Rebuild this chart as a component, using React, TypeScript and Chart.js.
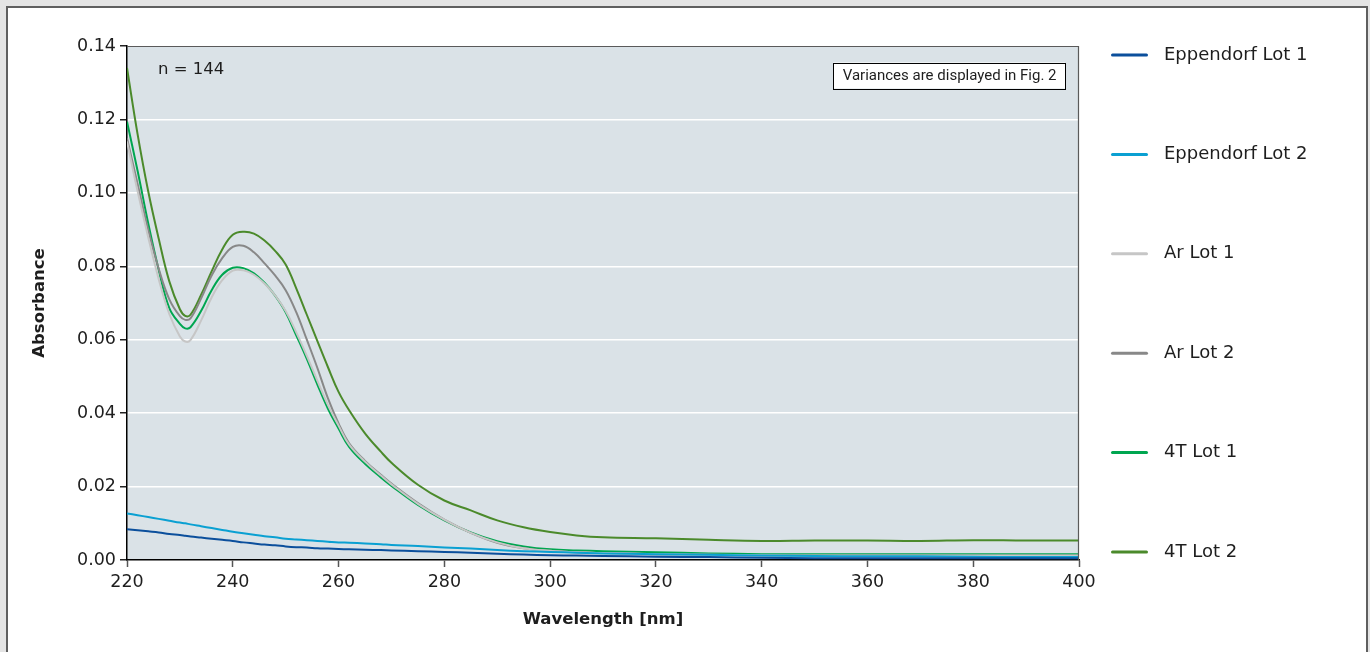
import React, { useEffect, useRef } from "react";
import { Chart, registerables } from "chart.js";

Chart.register(...registerables);

// ---------- data ----------
const WAVELENGTHS = [
  220, 222, 224, 226, 228, 230, 231, 232, 234, 236, 238, 240, 242, 244, 246, 248, 250, 252, 254, 256, 258,
  260, 262, 265, 268, 270, 275, 280, 285, 290, 295, 300, 305, 310, 320, 330, 340, 350, 360, 370, 380, 390, 400,
];

const EPPENDORF_LOT_1 = [
  0.0084, 0.0081, 0.0078, 0.0075, 0.0071, 0.0068, 0.0066, 0.0064, 0.0061, 0.0058, 0.0055, 0.0052, 0.0048, 0.0045,
  0.0042, 0.004, 0.0037, 0.0035, 0.0034, 0.0032, 0.0031, 0.003, 0.0029, 0.0028, 0.0027, 0.0026, 0.0024, 0.0022,
  0.002, 0.0017, 0.0015, 0.0013, 0.0012, 0.0011, 0.0009, 0.0008, 0.0006, 0.0005, 0.0005, 0.0005, 0.0005, 0.0005,
  0.0005,
];

const EPPENDORF_LOT_2 = [
  0.0127, 0.0122, 0.0117, 0.0112, 0.0107, 0.0102, 0.01, 0.0097, 0.0092, 0.0087, 0.0082, 0.0077, 0.0073, 0.0069,
  0.0065, 0.0062, 0.0058, 0.0056, 0.0054, 0.0052, 0.005, 0.0048, 0.0047, 0.0045, 0.0043, 0.0041, 0.0038, 0.0034,
  0.0031, 0.0027, 0.0024, 0.0022, 0.002, 0.0018, 0.0016, 0.0014, 0.0012, 0.0011, 0.001, 0.001, 0.0009, 0.0008,
  0.0008,
];

const AR_LOT_1 = [
  0.114, 0.1005, 0.088, 0.0765, 0.067, 0.0609, 0.0595, 0.0599, 0.0652, 0.0715, 0.0762, 0.0788, 0.0789, 0.0777,
  0.0753, 0.0721, 0.0678, 0.062, 0.0556, 0.0488, 0.0422, 0.0366, 0.0314, 0.0268, 0.023, 0.0206, 0.0153, 0.011,
  0.0074, 0.0048, 0.0032, 0.0025, 0.0021, 0.0019, 0.0016, 0.0014, 0.0013, 0.0012, 0.0012, 0.0012, 0.0012, 0.0012,
  0.0012,
];

const AR_LOT_2 = [
  0.1149, 0.1025, 0.09, 0.0793, 0.071, 0.0664, 0.0654, 0.0658, 0.0712, 0.0775, 0.0822, 0.0853, 0.0856, 0.0838,
  0.0808, 0.0775, 0.0735, 0.0675, 0.06, 0.0523, 0.044, 0.0372, 0.0318, 0.027, 0.0232, 0.0208, 0.0155, 0.011,
  0.0074, 0.0047, 0.0032, 0.0025, 0.0021, 0.0019, 0.0016, 0.0014, 0.0013, 0.0012, 0.0012, 0.0012, 0.0012, 0.0012,
  0.0012,
];

const T4_LOT_1 = [
  0.1194, 0.106, 0.0918, 0.079, 0.0686, 0.0643, 0.0631, 0.0634, 0.0678, 0.0735, 0.0777, 0.0796, 0.0795, 0.0781,
  0.0755, 0.072, 0.0675, 0.0612, 0.0548, 0.0478, 0.0412, 0.0358, 0.0308, 0.0262, 0.0225, 0.0202, 0.015, 0.0108,
  0.0075, 0.0051, 0.0037, 0.0029, 0.0026, 0.0024, 0.0021, 0.0018, 0.0016, 0.0016, 0.0016, 0.0016, 0.0016, 0.0016,
  0.0016,
];

const T4_LOT_2 = [
  0.134, 0.116, 0.1005, 0.0875, 0.0759, 0.0683, 0.0665, 0.0668, 0.0722, 0.0786, 0.0846, 0.0886, 0.0894, 0.0889,
  0.087, 0.0842, 0.0805, 0.074, 0.0668, 0.0596, 0.0525, 0.0458, 0.0408, 0.0345, 0.0295, 0.0265, 0.0205, 0.0162,
  0.0135, 0.0108, 0.0089, 0.0076, 0.0067, 0.0062, 0.0059, 0.0055, 0.0052, 0.0053, 0.0053, 0.0052, 0.0054, 0.0053,
  0.0053,
];

const SERIES_LABELS = ["Eppendorf Lot 1", "Eppendorf Lot 2", "Ar Lot 1", "Ar Lot 2", "4T Lot 1", "4T Lot 2"];
const SERIES_COLORS = ["#0b4f9c", "#0aa0d2", "#c6c6c6", "#888888", "#00a650", "#4b8a2b"];

const X_TICKS = [220, 240, 260, 280, 300, 320, 340, 360, 380, 400];
const Y_TICKS = [0, 0.02, 0.04, 0.06, 0.08, 0.1, 0.12, 0.14];

const X_TITLE = "Wavelength [nm]";
const Y_TITLE = "Absorbance";
const SAMPLE_NOTE = "n = 144";
const VARIANCE_NOTE = "Variances are displayed in Fig. 2";

// ---------- styles ----------
const FONT = "'DejaVu Sans', sans-serif";
const TEXT_COLOR = "#1e1e1e";
const PLOT_BG = "#dae2e7";

export default function App() {
  const canvasRef = useRef<HTMLCanvasElement | null>(null);

  useEffect(() => {
    const canvas = canvasRef.current;
    if (!canvas) return;

    const series = [EPPENDORF_LOT_1, EPPENDORF_LOT_2, AR_LOT_1, AR_LOT_2, T4_LOT_1, T4_LOT_2];
    const datasets = series.map((vals, i) => ({
      label: SERIES_LABELS[i],
      data: vals.map((v, j) => ({ x: WAVELENGTHS[j], y: v })),
      borderColor: SERIES_COLORS[i],
      backgroundColor: SERIES_COLORS[i],
      borderWidth: 2,
      pointRadius: 0,
      pointHoverRadius: 0,
      tension: 0.4,
      fill: false,
    }));

    const decorPlugin = {
      id: "decor",
      beforeDraw(chart: any) {
        const { ctx, chartArea: a } = chart;
        ctx.save();
        ctx.fillStyle = PLOT_BG;
        ctx.fillRect(a.left, a.top, a.right - a.left, a.bottom - a.top);
        ctx.restore();
      },
      afterDraw(chart: any) {
        const { ctx, chartArea: a } = chart;
        ctx.save();
        // top & right frame of plot area
        ctx.strokeStyle = "#5a5a5a";
        ctx.lineWidth = 1.2;
        ctx.beginPath();
        ctx.moveTo(a.left, a.top + 0.5);
        ctx.lineTo(a.right - 0.5, a.top + 0.5);
        ctx.lineTo(a.right - 0.5, a.bottom);
        ctx.stroke();

        // n label
        ctx.fillStyle = TEXT_COLOR;
        ctx.font = `16.5px ${FONT}`;
        ctx.textBaseline = "middle";
        ctx.textAlign = "left";
        ctx.fillText(SAMPLE_NOTE, a.left + 31, a.top + 24);

        // variance note box
        ctx.font = "15px Roboto, sans-serif";
        const tw = ctx.measureText(VARIANCE_NOTE).width;
        const bw = tw + 18;
        const bx = a.right - 14 - bw;
        const by = a.top + 16.5;
        const bh = 26;
        ctx.fillStyle = "#ffffff";
        ctx.fillRect(bx, by, bw, bh);
        ctx.strokeStyle = "#000000";
        ctx.lineWidth = 1;
        ctx.strokeRect(Math.round(bx) + 0.5, Math.round(by) + 0.5, Math.round(bw), bh);
        ctx.fillStyle = TEXT_COLOR;
        ctx.textAlign = "center";
        ctx.fillText(VARIANCE_NOTE, bx + bw / 2 + 0.5, by + bh / 2 + 1);

        // legend
        const ds = chart.data.datasets;
        const y0 = a.top + 9;
        const y1 = a.bottom - 8;
        const step = (y1 - y0) / (ds.length - 1);
        ctx.font = `18px ${FONT}`;
        ctx.textAlign = "left";
        ds.forEach((d: any, i: number) => {
          const y = y0 + i * step;
          ctx.strokeStyle = d.borderColor;
          ctx.lineWidth = 3;
          ctx.lineCap = "round";
          ctx.beginPath();
          ctx.moveTo(a.right + 33.5, y);
          ctx.lineTo(a.right + 67.5, y);
          ctx.stroke();
          ctx.fillStyle = TEXT_COLOR;
          ctx.fillText(d.label, a.right + 85, y);
        });
        ctx.restore();
      },
    };

    const chart = new Chart(canvas, {
      type: "line",
      data: { datasets: datasets as any },
      plugins: [decorPlugin],
      options: {
        animation: false,
        responsive: false,
        devicePixelRatio: 1,
        layout: { padding: { top: 46, right: 291, bottom: 0, left: 0 } },
        plugins: {
          legend: { display: false },
          tooltip: { enabled: false },
        },
        scales: {
          x: {
            type: "linear",
            min: 220,
            max: 400,
            afterBuildTicks: (s: any) => {
              s.ticks = X_TICKS.map((v) => ({ value: v }));
            },
            afterFit: (s: any) => {
              s.height = 92;
            },
            ticks: {
              font: { family: FONT, size: 17.5 },
              color: TEXT_COLOR,
              padding: 5,
              maxRotation: 0,
              autoSkip: false,
            },
            grid: {
              display: true,
              drawOnChartArea: false,
              drawTicks: true,
              tickLength: 7,
              tickColor: "#555555",
              tickWidth: 1.5,
            },
            border: { display: true, color: "#000000", width: 1.5 },
            title: {
              display: true,
              text: X_TITLE,
              color: TEXT_COLOR,
              font: { family: FONT, size: 16.5, weight: "bold" },
              padding: { top: 0, bottom: 22 },
            },
          },
          y: {
            type: "linear",
            min: 0,
            max: 0.14,
            afterBuildTicks: (s: any) => {
              s.ticks = Y_TICKS.map((v) => ({ value: v }));
            },
            afterFit: (s: any) => {
              s.width = 127;
            },
            ticks: {
              font: { family: FONT, size: 17.5 },
              color: TEXT_COLOR,
              padding: 4,
              callback: (v: any) => Number(v).toFixed(2),
            },
            grid: {
              display: true,
              color: "#ffffff",
              lineWidth: 1.5,
              drawTicks: true,
              tickLength: 7,
              tickColor: "#222222",
              tickWidth: 1.5,
            },
            border: { display: true, color: "#000000", width: 1.5 },
            title: {
              display: true,
              text: Y_TITLE,
              color: TEXT_COLOR,
              font: { family: FONT, size: 16.5, weight: "bold" },
              padding: { top: 30, bottom: 0 },
            },
          },
        },
      },
    });

    return () => chart.destroy();
  }, []);

  return (
    <div style={{ position: "fixed", left: 0, top: 0, width: 1370, height: 652, overflow: "hidden", background: "#e4e4e4" }}>
      <div
        style={{
          position: "absolute",
          left: 6,
          top: 6,
          width: 1362,
          height: 700,
          boxSizing: "border-box",
          border: "2px solid #5f5f5f",
          background: "#ffffff",
        }}
      />
      <canvas
        ref={canvasRef}
        width={1370}
        height={652}
        style={{ position: "absolute", left: 0, top: 0, width: 1370, height: 652, display: "block" }}
      />
    </div>
  );
}
